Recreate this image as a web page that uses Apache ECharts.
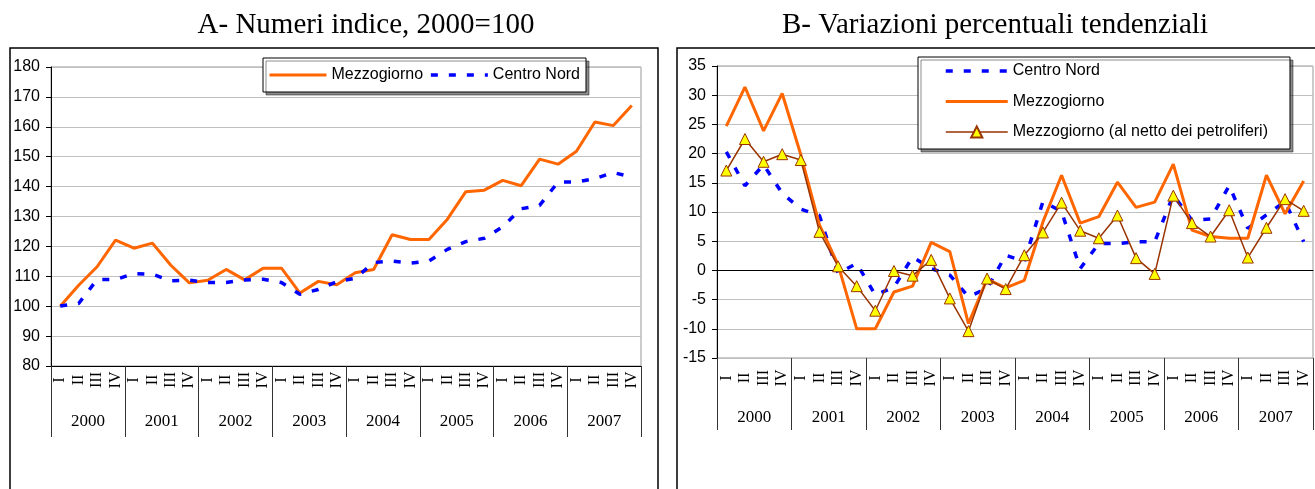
<!DOCTYPE html>
<html>
<head>
<meta charset="utf-8">
<title>Mezzogiorno / Centro Nord</title>
<script src="https://cdn.jsdelivr.net/npm/echarts@6/dist/echarts.min.js"></script>
<style>
	html, body { margin: 0; padding: 0; background: #fff; }
	#chart { width: 1315px; height: 489px; }
</style>
</head>
<body>
<div id="chart"></div>
<script>
// dati
const years = ['2000', '2001', '2002', '2003', '2004', '2005', '2006', '2007'];
const quarters = ['I', 'II', 'III', 'IV'];

// A - numeri indice, 2000=100
const idxMezzogiorno = [100, 107, 113.2, 122.1, 119.4, 121.1, 113.7, 107.8,
	108.7, 112.3, 108.8, 112.7, 112.7, 104.4, 108.3, 107.2,
	111.2, 112.3, 123.9, 122.3, 122.3, 129.1, 138.3, 138.8,
	142.1, 140.3, 149.2, 147.5, 151.8, 161.6, 160.4, 167.1];
const idxCentroNord = [100.1, 100.9, 108.9, 108.9, 110.9, 110.7, 108.5, 108.7,
	107.9, 107.9, 108.8, 109.0, 107.9, 104.0, 105.6, 108.2,
	109.3, 114.6, 115.1, 114.4, 115.1, 119.0, 121.6, 122.7,
	126.6, 132.6, 133.7, 141.5, 141.5, 142.7, 144.7, 143.2];

// B - variazioni percentuali tendenziali
const varCentroNord = [20.3, 14.5, 18.1, 13.2, 10.5, 9.4, -0.5, 1.2,
	-4.2, -2.9, 2.3, 0.3, -0.8, -4.5, -3.1, 2.6,
	1.5, 11.8, 10.1, 0.3, 4.6, 4.6, 4.9, 4.9,
	12.9, 8.6, 8.8, 14.5, 7.2, 9.5, 11.8, 4.9];
const varMezzogiorno = [24.7, 31.4, 23.9, 30.3, 19.8, 7.8, 1.0, -10,
	-10, -3.7, -2.7, 4.8, 3.2, -9.1, -1.5, -3.0,
	-1.7, 8.3, 16.3, 8.1, 9.2, 15.1, 10.8, 11.7,
	18.2, 6.9, 5.8, 5.5, 5.5, 16.3, 9.7, 15.3];
const varMezzNetto = [17.1, 22.5, 18.6, 19.9, 18.9, 6.6, 0.7, -2.7,
	-6.9, -0.1, -0.9, 1.8, -4.8, -10.4, -1.4, -3.2,
	2.6, 6.5, 11.6, 6.8, 5.5, 9.4, 2.1, -0.6,
	12.8, 8.1, 5.8, 10.3, 2.2, 7.3, 12.2, 10.2];

const nameMezz = 'Mezzogiorno';
const nameCN = 'Centro Nord';
const nameNetto = 'Mezzogiorno (al netto dei petroliferi)';

const sans = '"Liberation Sans", Arial, sans-serif';
const serif = '"Liberation Serif", "Times New Roman", serif';

const categories = [];
years.forEach(y => quarters.forEach(q => categories.push(y + '-' + q)));

function quarterAxis(gridIndex, margin) {
	return {
		type: 'category', gridIndex: gridIndex, data: categories, position: 'bottom',
		boundaryGap: true,
		axisLine: { show: true, lineStyle: { color: '#000', width: 1 } },
		axisTick: { show: false },
		axisLabel: {
			interval: 0, rotate: 90, margin: margin, align: 'center', verticalAlign: 'middle',
			color: '#000', fontFamily: serif, fontSize: 16,
			formatter: v => v.split('-')[1]
		},
		splitLine: { show: false }
	};
}

function yearAxis(gridIndex, tickLen, margin) {
	return {
		type: 'category', gridIndex: gridIndex, data: years, position: 'bottom',
		boundaryGap: true,
		axisLine: { show: false },
		axisTick: { show: true, interval: 0, length: tickLen, lineStyle: { color: '#333', width: 1 } },
		axisLabel: { interval: 0, margin: margin, color: '#000', fontFamily: serif, fontSize: 17 },
		splitLine: { show: false }
	};
}

function valueAxis(gridIndex, min, max, step) {
	return {
		type: 'value', gridIndex: gridIndex, min: min, max: max, interval: step,
		axisLine: { show: true, lineStyle: { color: '#000', width: 1 } },
		axisTick: { show: true, length: 5, lineStyle: { color: '#000' } },
		axisLabel: { color: '#000', fontFamily: sans, fontSize: 16, margin: 11 },
		splitLine: { show: true, lineStyle: { color: '#c0c0c0', width: 1 } }
	};
}

const legendBase = {
	backgroundColor: '#fff', borderColor: '#000', borderWidth: 1,
	shadowColor: 'rgba(0,0,0,0.45)', shadowBlur: 0, shadowOffsetX: 3, shadowOffsetY: 3,
	textStyle: { fontFamily: sans, fontSize: 16, color: '#000' },
	selectedMode: false
};

const orange = { color: '#ff6600', width: 3, type: 'solid' };
const blue = { color: '#0000ff', width: 3.5, type: [7, 11] };
const brown = { color: '#993300', width: 1.5, type: 'solid' };

// nella legenda: solo la linea (senza simbolo), con lo spessore della serie
const lineOnly = (name, style) => ({ name: name, itemStyle: { opacity: 0 }, lineStyle: { width: style.width } });

const chart = echarts.init(document.getElementById('chart'));

chart.setOption({
	animation: false,
	backgroundColor: '#fff',
	graphic: [
		{ type: 'rect', shape: { x: 10, y: 48, width: 648, height: 470 }, style: { fill: 'none', stroke: '#000', lineWidth: 1.5 }, silent: true },
		{ type: 'rect', shape: { x: 677, y: 48, width: 660, height: 470 }, style: { fill: 'none', stroke: '#000', lineWidth: 1.5 }, silent: true },
		{ type: 'text', x: 366, y: 25, style: { text: 'A- Numeri indice, 2000=100', font: '29px ' + serif, fill: '#000', textAlign: 'center', textVerticalAlign: 'middle' }, silent: true },
		{ type: 'text', x: 995, y: 25, style: { text: 'B- Variazioni percentuali tendenziali', font: '29px ' + serif, fill: '#000', textAlign: 'center', textVerticalAlign: 'middle' }, silent: true }
	],
	grid: [
		{ left: 51, top: 67, width: 590, height: 299, show: true, borderColor: '#999', borderWidth: 1, backgroundColor: 'transparent' },
		{ left: 717, top: 66, width: 596, height: 292, show: true, borderColor: '#999', borderWidth: 1, backgroundColor: 'transparent' }
	],
	xAxis: [
		quarterAxis(0, 14),
		yearAxis(0, 71, 47),
		quarterAxis(1, 20),
		yearAxis(1, 72, 51)
	],
	yAxis: [
		valueAxis(0, 80, 180, 10),
		valueAxis(1, -15, 35, 5)
	],
	legend: [
		Object.assign({}, legendBase, {
			left: 263, top: 58, orient: 'horizontal',
			data: [lineOnly(nameMezz, orange), lineOnly(nameCN, blue)],
			itemWidth: 57, itemHeight: 12, itemGap: 6, padding: [9, 6, 9, 5]
		}),
		Object.assign({}, legendBase, {
			left: 918, top: 57, orient: 'vertical',
			data: [lineOnly(nameCN, blue), lineOnly(nameMezz, orange), { name: nameNetto, lineStyle: { width: brown.width } }],
			itemWidth: 62, itemHeight: 14, itemGap: 14.5, padding: [6, 22, 9, 26]
		})
	],
	series: [
		{
			name: nameMezz, type: 'line', xAxisIndex: 0, yAxisIndex: 0,
			data: idxMezzogiorno, symbol: 'none', lineStyle: orange, itemStyle: { color: orange.color }, z: 3
		},
		{
			name: nameCN, type: 'line', xAxisIndex: 0, yAxisIndex: 0,
			data: idxCentroNord, symbol: 'none', lineStyle: blue, itemStyle: { color: blue.color }, z: 4
		},
		{
			name: nameCN, type: 'line', xAxisIndex: 2, yAxisIndex: 1,
			data: varCentroNord, symbol: 'none', lineStyle: blue, itemStyle: { color: blue.color }, z: 3,
			markLine: {
				silent: true, symbol: 'none', label: { show: false },
				lineStyle: { color: '#000', width: 1, type: 'solid' },
				emphasis: { disabled: true },
				data: [{ yAxis: 0 }]
			}
		},
		{
			name: nameMezz, type: 'line', xAxisIndex: 2, yAxisIndex: 1,
			data: varMezzogiorno, symbol: 'none', lineStyle: orange, itemStyle: { color: orange.color }, z: 4
		},
		{
			name: nameNetto, type: 'line', xAxisIndex: 2, yAxisIndex: 1,
			data: varMezzNetto, symbol: 'triangle', symbolSize: 11, showAllSymbol: true,
			lineStyle: brown,
			itemStyle: { color: '#ffff00', borderColor: '#993300', borderWidth: 1 }, z: 5
		}
	]
});
</script>
</body>
</html>
